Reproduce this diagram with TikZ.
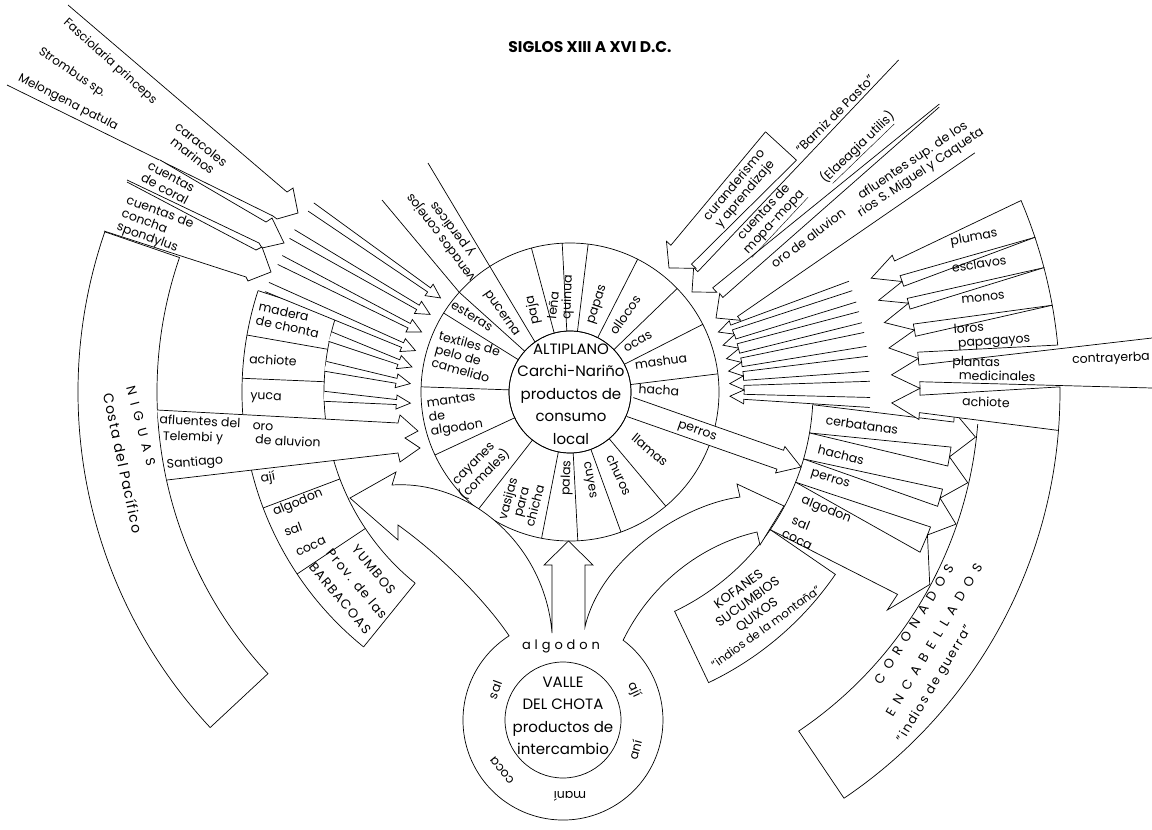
\documentclass[tikz,border=0pt]{standalone}
\usepackage{fontspec}
\setmainfont{Poppins}
\usetikzlibrary{calc}
% block arrow with open tail: [opts]{tail}{tip}{tail half-width}{neck half-width}{head half-width}{head length}
\newcommand{\blkarrow}[7][]{%
  \coordinate (bT) at (#2);
  \coordinate (bP) at (#3);
  \coordinate (bB) at ($(bP)!#7!(bT)$);
  \draw[arr,#1] ($(bT)!#4!90:(bP)$) -- ($(bB)!#5!90:(bP)$) -- ($(bB)!#6!90:(bP)$) -- (bP)
     -- ($(bB)!#6!-90:(bP)$) -- ($(bB)!#5!-90:(bP)$) -- ($(bT)!#4!-90:(bP)$);}
% inward row arrow of the Coronados band
\newcommand{\corow}[2]{%
  \pgfmathsetmacro{\CRa}{#1}\pgfmathsetmacro{\CRb}{#2}%
  \pgfmathsetmacro{\CRe}{0.22*(#1-(#2))}\pgfmathsetmacro{\CRm}{0.5*(#1+(#2))}%
  \draw[arr] ($(C)+(\CRa:490)$) arc[start angle=\CRa,end angle=\CRb,radius=490]
    -- ($(C)+({\CRb+\CRe}:350)$) -- ($(C)+(\CRb:350)$) -- ($(C)+(\CRm:322)$)
    -- ($(C)+(\CRa:350)$) -- ($(C)+({\CRa-\CRe}:350)$) -- cycle;}
% outward row arrow of the Kofanes band
\newcommand{\kofrow}[2]{%
  \pgfmathsetmacro{\KRa}{#1}\pgfmathsetmacro{\KRb}{#2}%
  \pgfmathsetmacro{\KRe}{0.22*(#1-(#2))}\pgfmathsetmacro{\KRm}{0.5*(#1+(#2))}%
  \draw[arr] ($(C)+(\KRa:243)$) arc[start angle=\KRa,end angle=\KRb,radius=243]
    -- ($(C)+({\KRb+\KRe}:385)$) -- ($(C)+(\KRb:385)$) -- ($(C)+(\KRm:408)$)
    -- ($(C)+(\KRa:385)$) -- ($(C)+({\KRa-\KRe}:385)$) -- cycle;}
\begin{document}
\begin{tikzpicture}[x=1pt,y=1pt,line width=0.7pt,line join=miter,
  font=\fontsize{12.5}{14}\selectfont,
  arr/.style={draw=black,fill=white,line width=0.7pt},
  lab/.style={inner sep=0pt,align=center},
  labl/.style={inner sep=0pt,align=left},
  big/.style={inner sep=0pt,align=center,font=\fontsize{15}{22.5}\selectfont},
  spaced/.style={inner sep=0pt,align=center,font=\fontsize{13}{15}\selectfont\addfontfeature{LetterSpace=#1}}]
\useasboundingbox (0,0) rectangle (1152,-830);
\fill[white] (0,0) rectangle (1152,-830);
\coordinate (C) at (570,-392);
\coordinate (V) at (563,-720);

\node[inner sep=0pt,font=\fontsize{15.5}{17}\selectfont\bfseries] (title) at (590,-47) {SIGLOS XIII A XVI D.C.};

% ---------- outer bands
\draw ($(C)+(161:492)$) arc[start angle=161,end angle=223,radius=492]
   -- ($(C)+(223:413)$) arc[start angle=223,end angle=161,radius=413] -- cycle;
\draw ($(C)+(-4.5:490)$) arc[start angle=-4.5,end angle=-56,radius=490]
   -- ($(C)+(-56:409)$) arc[start angle=-56,end angle=-4.5,radius=409];
% Yumbos band
\draw ($(C)+(162:328)$) arc[start angle=162,end angle=231,radius=328];
\draw ($(C)+(162:246)$) arc[start angle=162,end angle=231,radius=246];
\foreach \a in {162,170,177.6,200.7,213.7,231} {\draw ($(C)+(\a:246)$) -- ($(C)+(\a:328)$);}
% Kofanes label box
\draw ($(C)+(-34.5:243)$) -- ($(C)+(-34.5:322)$) arc[start angle=-34.5,end angle=-64.5,radius=322]
   -- ($(C)+(-64.5:243)$) arc[start angle=-64.5,end angle=-34.5,radius=243];

% ---------- Altiplano ring
\draw (C) circle[radius=149];
\draw (C) circle[radius=61];
\foreach \a in {7,27,44,63,83,93,105,138,148,178,205,232,259,273,290,310} {\draw ($(C)+(\a:61)$) -- ($(C)+(\a:149)$);}

% ---------- Valle del Chota with its three arms
\draw[arr] (509.1,-635.8) arc[start angle=122.6,end angle=413,radius=100]
  .. controls (650,-585) and (700,-545) .. (757,-532) -- (760,-545) -- (784,-506) -- (737,-484) -- (740,-497)
  .. controls (680,-505) and (600,-560) .. (585,-627) -- (585,-565) -- (593,-565) -- (568.5,-541)
  -- (544,-565) -- (552,-565) -- (552,-633)
  .. controls (545,-545) and (470,-480) .. (392,-485) -- (396,-472) -- (350,-498) -- (398,-540) -- (398,-525)
  .. controls (440,-555) and (485,-600) .. (509.1,-635.8) -- cycle;
\draw (V) circle[radius=58];

% ---------- rows
\kofrow{-3}{-9.7}
\kofrow{-9.7}{-16}
\kofrow{-16}{-21.8}
\kofrow{-21.8}{-34.5}
\corow{23}{18.4}
\corow{18.4}{14.7}
\corow{14.7}{10.2}
\corow{10.2}{5.5}
\corow{0.6}{-4.5}
\draw[arr] (1152,-338) -- ($(C)+(4.42:350)$) -- ($(C)+(5.5:350)$) -- ($(C)+(3.05:322)$)
   -- ($(C)+(0.6:350)$) -- ($(C)+(1.68:350)$) -- (1152,-388);

% perros arrow
\blkarrow{630,-407}{801,-467}{10pt}{10pt}{14pt}{22pt}
\draw (C) circle[radius=61];

% ---------- right side arrows towards the Altiplano
\foreach \ta/\pa in {20.7/22,16.5/17,12.4/12,7.8/7.5,3/3,-2/-1.5}
  {\blkarrow{$(C)+(\ta:300)$}{$(C)+(\pa:160)$}{5pt}{2.5pt}{7pt}{14pt}}
\blkarrow{957,-130}{716,-318}{29pt}{12pt}{17pt}{18pt}
\blkarrow{919,-82}{692,-292}{30pt}{11pt}{17pt}{18pt}
\blkarrow{781,-146}{669,-268}{21pt}{14pt}{20pt}{18pt}
\draw (765.5,-131.8) -- (796.5,-160.2);

% ---------- left side arrows
\draw[arr] (68,-5) -- (287,-192) -- (293,-188) -- (298,-213) -- (277,-219) -- (273,-216) -- (7,-85);
\draw[arr] (160,-160) -- (266,-222) -- (272,-218) -- (284,-243) -- (262,-248) -- (259,-243) -- (127,-180);
\draw[arr] (127,-182) -- (256,-250) -- (262,-247) -- (271,-272) -- (248,-281) -- (246,-277) -- (104,-231);
\blkarrow{311,-207}{$(C)+(144:160)$}{5pt}{2.5pt}{7pt}{14pt}
\blkarrow{292,-234}{$(C)+(151:160)$}{5pt}{2.5pt}{7pt}{14pt}
\blkarrow{280,-260}{$(C)+(158:160)$}{5pt}{2.5pt}{7pt}{14pt}
\blkarrow{267,-287}{$(C)+(165:160)$}{5pt}{2.5pt}{7pt}{14pt}
\blkarrow{$(C)+(167:246)$}{$(C)+(171:160)$}{5pt}{2.5pt}{7pt}{14pt}
\blkarrow{$(C)+(174:246)$}{$(C)+(177:160)$}{5pt}{2.5pt}{7pt}{14pt}
\blkarrow{$(C)+(181:246)$}{$(C)+(184:160)$}{5pt}{2.5pt}{7pt}{14pt}
\draw[arr] (157,-410) -- (398,-423) -- (400,-415) -- (418,-431) -- (405,-438) -- (420,-448)
   -- (400,-462) -- (398,-453) -- (167,-480);
% venados arrow edges
\draw (428,-163) -- (535,-342);
\draw (382,-200) -- ($(C)+(138:149)$);

% ---------- texts: Altiplano
\node[big] (alt) at (571,-394) {ALTIPLANO\\Carchi-Nariño\\productos de\\consumo\\local};
\node[lab,rotate=-4] (tHacha) at (659,-390) {hacha};
\node[lab,rotate=8] (tMashua) at (661,-361) {mashua};
\node[lab,rotate=30] (tOcas) at (638,-342) {ocas};
\node[lab,rotate=55] (tOllocos) at (625,-315) {ollocos};
\node[lab,rotate=72] (tPapas) at (598,-305) {papas};
\node[lab,rotate=88] (tQuinua) at (568,-297) {quinua};
\node[lab,rotate=84] (tLena) at (553,-305) {leña};
\node[lab,rotate=102] (tPaja) at (533,-310) {paja};
\node[lab,rotate=-55] (tPuc) at (501,-314) {pucerna};
\node[lab,rotate=-32] (tEsteras) at (472,-316) {esteras};
\node[labl,rotate=-15] (tTextiles) at (466,-357) {textiles de\\pelo de\\camelido};
\node[labl,rotate=8] (tMantas) at (455,-415) {mantas\\de\\algodon};
\node[lab,rotate=45] (tCayanes) at (480,-470) {cayanes\\(comales)};
\node[lab,rotate=75] (tVasijas) at (521,-502) {vasijas\\para\\chicha};
\node[lab,rotate=88] (tPalas) at (567,-478) {palas};
\node[lab,rotate=-80] (tCuyes) at (589,-480) {cuyes};
\node[lab,rotate=-65] (tChuros) at (619,-475) {churos};
\node[lab,rotate=-40] (tLlamas) at (650,-450) {llamas};
\node[lab,rotate=-19] (tPerrosA) at (697,-432) {perros};
\node[lab,rotate=127] (tVenados) at (447,-233) {venados conejos\\y perdices};

% Valle del Chota
\node[big] (chota) at (563,-716) {VALLE\\DEL CHOTA\\productos de\\intercambio};
\node[spaced=30] (cAlg) at (561,-646) {algodon};
\node[lab,rotate=-65] (cAji) at (634,-690) {ají};
\node[lab,rotate=75] (cAni) at (635,-750) {aní};
\node[lab,rotate=180] (cMani) at (570,-796) {maní};
\node[lab,rotate=129] (cCoca) at (502,-770) {coca};
\node[lab,rotate=70] (cSal) at (495,-690) {sal};

% Yumbos
\node[labl,rotate=-12] (yMadera) at (289,-320) {madera\\de chonta};
\node[lab,rotate=-4] (yAchiote) at (273,-360) {achiote};
\node[lab,rotate=-2] (yYuca) at (266,-398) {yuca};
\node[lab,rotate=-3] (yOro) at (263,-427) {oro};
\node[lab,rotate=-3] (yAluv) at (288,-441) {de aluvion};
\node[lab,rotate=-3] (nAfl) at (200,-421) {afluentes del};
\node[lab,rotate=-2] (nTel) at (193,-438) {Telembi y};
\node[lab,rotate=5] (nSan) at (195,-463) {Santiago};
\node[lab,rotate=10] (yAji) at (268,-478) {ají};
\node[lab,rotate=22] (yAlg) at (298,-503) {algodon};
\node[lab,rotate=20] (ySal) at (293,-529) {sal};
\node[lab,rotate=25] (yCoca) at (311,-547) {coca};
\node[lab,rotate=-50,font=\fontsize{13}{22}\selectfont\addfontfeature{LetterSpace=10}] (yLabel) at (357,-584) {YUMBOS\\Prov. de las\\BARBACOAS};

% Niguas
\node[spaced=52,rotate=-75] (nNig) at (141,-426) {NIGUAS};
\node[lab,rotate=-78,font=\fontsize{14}{16}\selectfont\addfontfeature{LetterSpace=8}] (nCosta) at (123,-463) {Costa del Pacífico};
\node[lab,rotate=-42,font=\fontsize{12}{14}\selectfont] (aFas) at (110,-62) {Fasciolaria princeps};
\node[lab,rotate=-34,font=\fontsize{12}{14}\selectfont] (aStr) at (72,-73) {Strombus sp.};
\node[lab,rotate=-27,font=\fontsize{12}{14}\selectfont] (aMel) at (68,-103) {Melongena patula};
\node[lab,rotate=-38] (aCar) at (197,-150) {caracoles\\marinos};
\node[lab,rotate=-28] (aCor) at (168,-183) {cuentas\\de coral};
\node[labl,rotate=-20] (aSpo) at (155,-226) {cuentas de\\concha\\spondylus};

% Kofanes
\node[lab,rotate=-8] (kCer) at (862,-425) {cerbatanas};
\node[lab,rotate=-14] (kHac) at (841,-455) {hachas};
\node[lab,rotate=-17] (kPer) at (830,-480) {perros};
\node[lab,rotate=-22] (kAlg) at (826,-510) {algodon};
\node[lab,rotate=-22] (kSal) at (801,-523) {sal};
\node[lab,rotate=-25] (kCoca) at (797,-540) {coca};
\node[lab,rotate=36,font=\fontsize{13}{15.5}\selectfont] (kLabel) at (752,-608) {KOFANES\\SUCUMBIOS\\QUIXOS\\{\fontsize{11.5}{13}\selectfont"indios de la montaña"}};

% Coronados
\node[lab,rotate=10] (rPlu) at (974,-238) {plumas};
\node[lab,rotate=9] (rEsc) at (979,-264) {esclavos};
\node[lab,rotate=6] (rMon) at (983,-298) {monos};
\node[labl,rotate=4] (rLor) at (992,-335) {loros\\\ papagayos};
\node[labl,rotate=-1] (rPla) at (994,-369) {plantas\\\ \ medicinales};
\node[lab,rotate=-2] (rAch) at (986,-402) {achiote};
\node[lab,rotate=2] (rCon) at (1111,-359) {contrayerba};
\node[spaced=53,rotate=58] (rCor) at (914,-624) {CORONADOS};
\node[spaced=55,rotate=59] (rEnc) at (934,-640) {ENCABELLADOS};
\node[spaced=12,rotate=59,font=\fontsize{12.5}{14}\selectfont\addfontfeature{LetterSpace=12}] (rInd) at (935,-684) {"indios de guerra"};

% top right arrows texts
\node[lab,rotate=50] (bCur) at (740,-190) {curanderismo\\y aprendizaje};
\node[lab,rotate=47] (bMopa) at (770,-218) {cuentas de\\\underline{mopa-mopa}};
\node[lab,rotate=45] (bBar) at (835,-114) {"Barniz de Pasto"};
\node[lab,rotate=44] (bEla) at (858,-148) {(\underline{Elaeagia utilis})};
\node[lab,rotate=37] (bOro) at (808,-238) {oro de aluvion};
\node[lab,rotate=34] (bAfl) at (917,-167) {afluentes sup. de los\\rios S. Miguel y Caqueta};
\end{tikzpicture}
\end{document}
